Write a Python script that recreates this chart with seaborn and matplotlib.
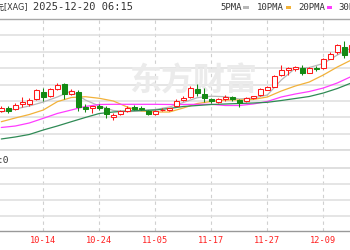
import numpy as np
import pandas as pd
import matplotlib
matplotlib.use("Agg")
import matplotlib.pyplot as plt
from matplotlib.patches import Rectangle
import seaborn as sns

# ---------------- data ----------------
all_dates = ["10-02", "10-03", "10-06", "10-07", "10-08", "10-09", "10-10", "10-13", "10-14",
             "10-15", "10-16", "10-17", "10-20", "10-21", "10-22", "10-23", "10-24", "10-27",
             "10-28", "10-29", "10-30", "10-31", "11-03", "11-04", "11-05", "11-06", "11-07",
             "11-10", "11-11", "11-12", "11-13", "11-14", "11-17", "11-18", "11-19", "11-20",
             "11-21", "11-24", "11-25", "11-26", "11-27", "11-28", "12-01", "12-02", "12-03",
             "12-04", "12-05", "12-08", "12-09", "12-10", "12-11", "12-12", "12-15"]
first_candle = "10-06"

open_ = [47.53, 48.26, 48.02, 49.12, 49.24, 50.46, 52.17, 51.19, 52.78, 54.12,
         51.80, 52.17, 48.50, 48.26, 48.63, 48.26, 46.18, 46.80, 47.41, 48.50,
         48.26, 47.53, 46.80, 47.65, 47.65, 48.87, 50.14, 51.02, 53.02, 51.80,
         50.34, 49.80, 50.46, 50.95, 50.22, 49.85, 50.82, 51.43, 52.66, 53.46,
         56.32, 57.66, 57.79, 58.15, 56.93, 58.03, 57.96, 60.35, 61.82, 63.16,
         62.01]
close = [48.26, 47.53, 48.99, 49.73, 50.22, 52.66, 50.95, 52.90, 53.88, 51.80,
         52.41, 48.50, 48.02, 48.63, 48.14, 46.80, 46.55, 47.41, 48.38, 48.02,
         48.02, 46.80, 47.53, 47.89, 48.14, 50.09, 50.82, 53.15, 51.92, 50.63,
         49.85, 50.58, 50.95, 50.46, 49.48, 50.82, 51.19, 52.90, 53.39, 56.08,
         57.66, 58.15, 58.27, 56.93, 57.91, 57.79, 60.35, 61.57, 63.53, 61.20,
         63.65]
high = [48.75, 48.75, 49.48, 50.95, 50.70, 52.90, 53.15, 53.15, 54.25, 54.37,
        52.90, 52.54, 49.12, 48.75, 49.12, 48.75, 47.04, 47.77, 48.63, 48.99,
        48.63, 47.89, 47.77, 48.14, 48.38, 50.46, 51.19, 53.63, 54.12, 53.22,
        50.82, 50.70, 51.43, 51.31, 50.46, 50.95, 51.31, 53.15, 53.63, 56.20,
        58.76, 58.27, 58.52, 58.76, 58.27, 58.52, 60.47, 61.82, 64.01, 64.62,
        64.14]
low = [47.28, 47.04, 47.77, 48.50, 48.75, 50.22, 49.97, 50.95, 52.54, 50.34,
       51.43, 47.53, 47.28, 46.92, 47.65, 45.82, 45.33, 46.43, 47.28, 47.77,
       47.77, 46.67, 46.55, 47.41, 47.53, 48.75, 49.97, 50.82, 51.19, 49.65,
       49.48, 49.48, 49.97, 50.09, 48.50, 49.72, 50.46, 51.31, 52.54, 53.39,
       56.08, 56.32, 57.30, 56.32, 56.69, 57.30, 57.79, 60.11, 61.57, 60.59,
       61.94]

ma_dates = ["10-06", "10-08", "10-10", "10-14", "10-16", "10-20", "10-22", "10-24", "10-28",
            "10-30", "11-03", "11-05", "11-07", "11-11", "11-13", "11-17", "11-19", "11-21",
            "11-25", "11-27", "12-01", "12-03", "12-05", "12-09", "12-11", "12-15"]
ma5 = [47.28, 48.02, 48.75, 49.72, 50.95, 52.41, 50.22, 48.75, 47.65, 47.36, 47.53, 47.89, 48.50,
       49.60, 50.78, 51.14, 51.02, 50.46, 50.70, 51.43, 55.10, 57.96, 58.15, 59.13, 61.20, 62.92]
ma10 = [44.91, 45.82, 46.67, 47.77, 49.80, 50.82, 51.02, 50.63, 49.97, 48.50, 47.53, 47.28, 47.28,
        48.26, 49.36, 49.85, 50.22, 50.22, 50.34, 50.95, 52.41, 53.63, 54.61, 56.32, 58.27, 59.98]
ma20 = [43.50, 43.86, 44.60, 45.74, 46.92, 47.77, 48.63, 49.12, 49.16, 49.16, 49.16, 49.16, 49.12,
        49.12, 49.16, 49.16, 48.87, 48.87, 49.24, 49.85, 50.95, 51.68, 52.29, 53.14, 54.37, 55.95]
ma30 = [40.69, 41.18, 41.79, 42.89, 43.86, 44.91, 45.94, 46.92, 47.28, 47.53, 47.65, 47.77, 48.14,
        48.63, 48.87, 49.11, 49.24, 49.36, 49.48, 49.65, 50.09, 50.58, 51.07, 51.92, 53.02, 54.37]

tick_labels = ["10-02", "10-14", "10-24", "11-05", "11-17", "11-27", "12-09"]
legend_names = ["5PMA", "10PMA", "20PMA", "30PMA"]
title_name = "白银美元[XAG]"
title_time = "2025-12-20 06:15"
volume_text = ":0"
watermark = "东方财富"

# ---------------- style ----------------
sns.set_style("white")
plt.rcParams["font.family"] = ["DejaVu Sans Mono", "Noto Sans CJK SC"]

W, H = 350, 250
fig = plt.figure(figsize=(W / 100, H / 100), dpi=100)


def fx(px):
    return px / W


def fy(py):
    return 1 - py / H


# main price axes: y pixels 19..150, full width
ax = fig.add_axes([0, fy(150), 1, (150 - 19) / H])
# volume axes: y pixels 168..231
axv = fig.add_axes([0, fy(231), 1, (231 - 168) / H], sharex=ax)

c0 = all_dates.index(first_candle)
xs = np.arange(c0, c0 + len(open_))

df = pd.DataFrame({"x": xs, "open": open_, "close": close, "high": high, "low": low})
df["up"] = df["close"] >= df["open"]
df["bottom"] = df[["open", "close"]].min(axis=1)
df["height"] = (df["close"] - df["open"]).abs().clip(lower=0.1)

RED = "#ff1a1a"
GREEN = "#148a14"
bw = 0.72

up = df[df["up"]]
dn = df[~df["up"]]
ax.vlines(up["x"], up["low"], up["high"], color=RED, lw=0.75, zorder=3)
ax.vlines(dn["x"], dn["low"], dn["high"], color=GREEN, lw=0.75, zorder=3)
ax.bar(up["x"], up["height"], bottom=up["bottom"], width=bw, facecolor="white",
       edgecolor=RED, linewidth=0.75, zorder=4)
ax.bar(dn["x"], dn["height"], bottom=dn["bottom"], width=bw, facecolor=GREEN,
       edgecolor=GREEN, linewidth=0.75, zorder=4)

ma_x = [all_dates.index(d) for d in ma_dates]
ma_df = pd.DataFrame({"x": ma_x, "5PMA": ma5, "10PMA": ma10, "20PMA": ma20, "30PMA": ma30})
ma_colors = {"5PMA": "#b8b8b8", "10PMA": "#f2b23a", "20PMA": "#ff3cff", "30PMA": "#2f8a55"}
for name in legend_names:
    sns.lineplot(data=ma_df, x="x", y=name, ax=ax, color=ma_colors[name], lw=0.9,
                 legend=False, zorder=2)

# grid / frames
tick_pos = [all_dates.index(d) for d in tick_labels]
ax.set_axisbelow(True)
ax.yaxis.grid(True, color="#dedede", lw=1.1)
ax.xaxis.grid(True, color="#d0d0d0", lw=0.8, ls=(0, (3, 3)))
ax.tick_params(left=False, labelleft=False, bottom=False, labelbottom=False, length=0)
ax.set_xlabel("")
ax.set_ylabel("")
for s in ["left", "right"]:
    ax.spines[s].set_visible(False)
ax.spines["top"].set_color("#a8a8a8")
ax.spines["top"].set_linewidth(1.0)
ax.spines["bottom"].set_color("#dcdcdc")
ax.spines["bottom"].set_linewidth(1.3)

ax.text(0.552, 0.52, watermark, transform=ax.transAxes, ha="center", va="center",
        fontsize=23, color="#ebebeb", family=["Noto Sans CJK SC"], fontweight="bold",
        zorder=1)

axv.set_axisbelow(True)
axv.yaxis.grid(True, color="#dedede", lw=1.1)
axv.xaxis.grid(True, color="#d0d0d0", lw=0.8, ls=(0, (3, 3)))
axv.tick_params(left=False, labelleft=False, bottom=False, length=0, pad=3.5)
for s in ["left", "right"]:
    axv.spines[s].set_visible(False)
axv.spines["top"].set_color("#dcdcdc")
axv.spines["top"].set_linewidth(1.3)
axv.spines["bottom"].set_color("#999999")
axv.spines["bottom"].set_linewidth(1.0)

# limits and ticks set last so nothing rescales them
x_left = c0 - 1.3 / 7
ax.set_xlim(x_left, x_left + W / 7)
ax.set_ylim(38, 70)
ax.set_yticks(np.arange(38, 71, 4))
axv.set_ylim(0, 3.9)
axv.set_yticks([0.9, 1.9, 2.9])
axv.set_xticks(tick_pos)
axv.set_xticklabels(tick_labels, color="#ff2020", fontsize=6.2)
ax.tick_params(labelbottom=False)
axv.set_xlim(x_left, x_left + W / 7)

# header texts
fig.text(fx(28.5), fy(7.5), title_name, ha="right", va="center", fontsize=5.8,
         color="#333333", family=["DejaVu Sans", "Noto Sans CJK SC"])
fig.text(fx(33), fy(7.5), title_time, ha="left", va="center", fontsize=7.5, color="#333333")

leg_x = [220, 257.3, 298.3, 338.3]
for name, lx in zip(legend_names, leg_x):
    fig.text(fx(lx), fy(7.5), name, ha="left", va="center", fontsize=6.5, color="#333333")
    wpx = len(name) * 0.602 * 6.5 * 100 / 72
    fig.add_artist(Rectangle((fx(lx + wpx + 1.5), fy(8.7)), 5.3 / W, 2.7 / H,
                             transform=fig.transFigure, facecolor=ma_colors[name],
                             edgecolor="none"))

fig.text(fx(-2.5), fy(160.5), volume_text, ha="left", va="center", fontsize=6.8,
         color="#333333")

fig.savefig("out.png", dpi=100)
